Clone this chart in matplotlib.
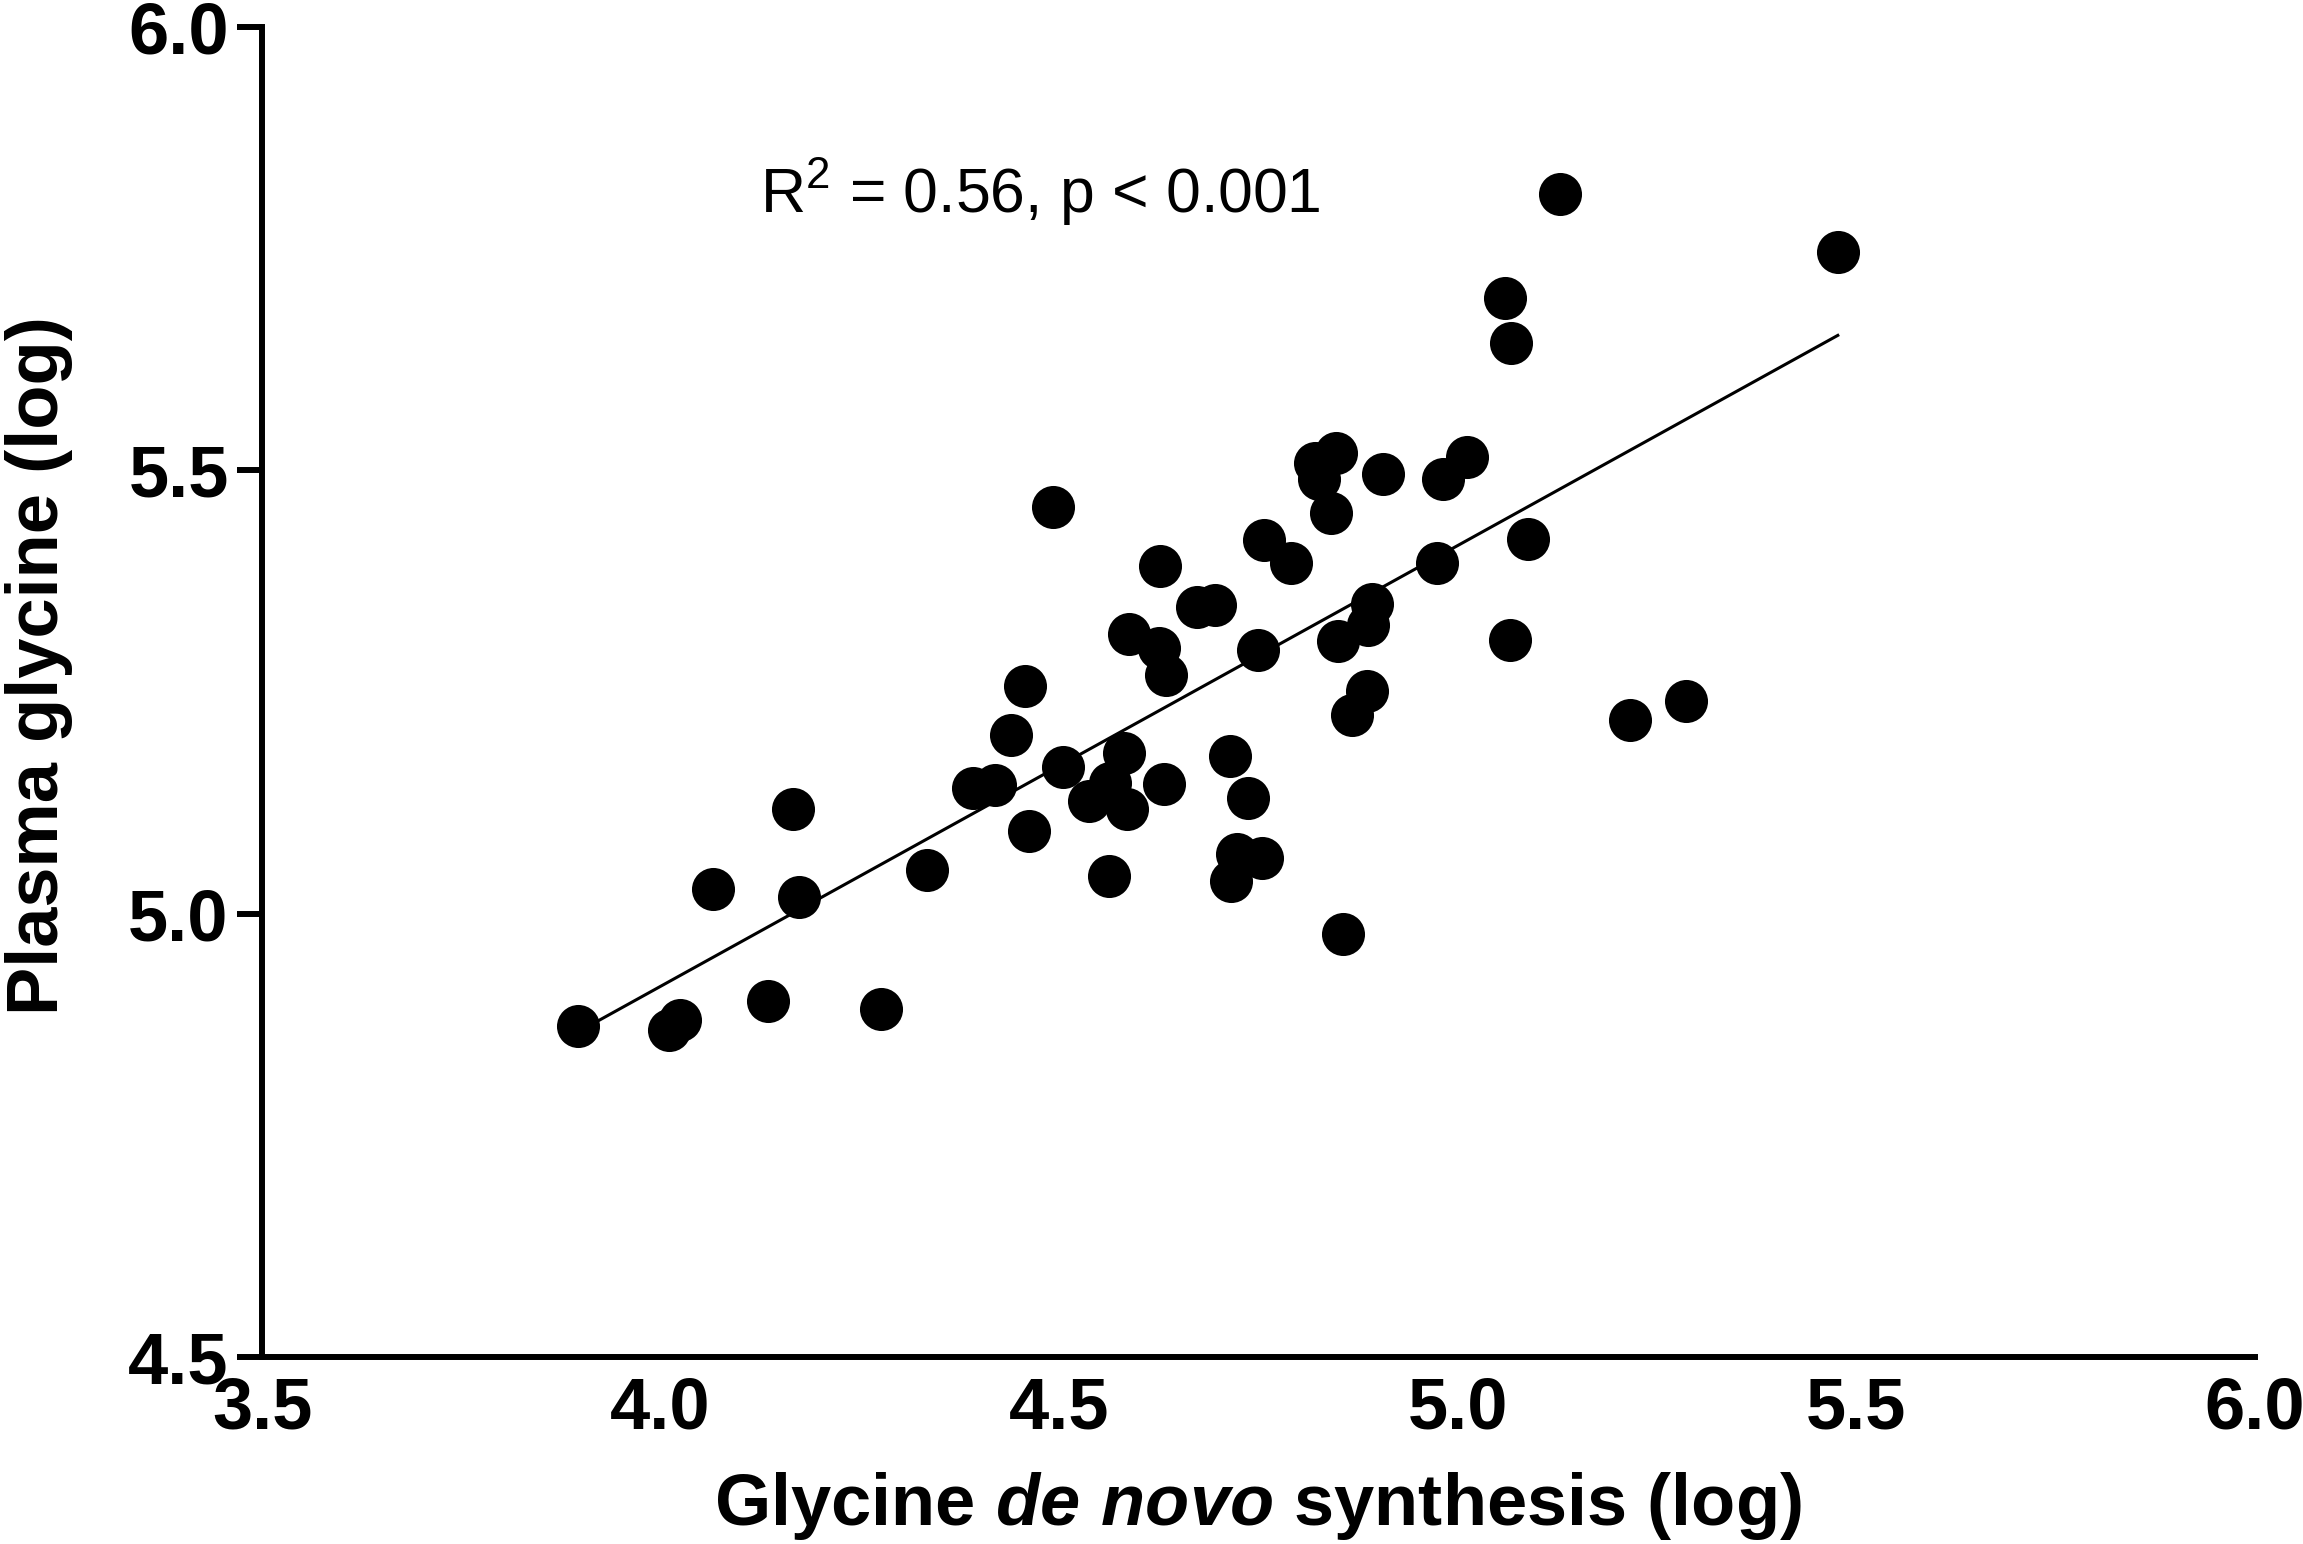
import numpy as np
import matplotlib
matplotlib.use('Agg')
import matplotlib.pyplot as plt

# valores (log)
glycine_denovo = [3.896, 4.010, 4.024, 4.066, 4.135, 4.166, 4.174, 4.277, 4.334, 4.392,
                  4.420, 4.440, 4.457, 4.462, 4.492, 4.505, 4.537, 4.564, 4.585, 4.632,
                  4.582, 4.563, 4.588, 4.625, 4.634, 4.627, 4.673, 4.695, 4.714, 4.737,
                  4.723, 4.754, 4.716, 4.749, 4.757, 4.791, 4.821, 4.826, 4.848, 4.841,
                  4.850, 4.856, 4.868, 4.886, 4.887, 4.893, 4.907, 4.974, 4.982, 5.012,
                  5.059, 5.067, 5.066, 5.088, 5.128, 5.216, 5.287, 5.477]
plasma_glycine = [4.873, 4.869, 4.880, 5.028, 4.902, 5.118, 5.019, 4.892, 5.049, 5.142,
                  5.145, 5.202, 5.257, 5.093, 5.459, 5.165, 5.127, 5.147, 5.118, 5.146,
                  5.181, 5.042, 5.315, 5.300, 5.269, 5.392, 5.346, 5.348, 5.178, 5.130,
                  5.067, 5.063, 5.037, 5.297, 5.421, 5.395, 5.508, 5.490, 5.520, 5.452,
                  5.308, 4.977, 5.224, 5.251, 5.326, 5.349, 5.496, 5.396, 5.490, 5.515,
                  5.694, 5.644, 5.309, 5.423, 5.812, 5.219, 5.240, 5.746]

x_ticks = [3.5, 4.0, 4.5, 5.0, 5.5, 6.0]
y_ticks = [4.5, 5.0, 5.5, 6.0]
stats_text = r'R$^{\mathregular{2}}$ = 0.56, p < 0.001'

x = np.array(glycine_denovo)
y = np.array(plasma_glycine)

# recta de regresion
slope, intercept = np.polyfit(x, y, 1)
x_fit = np.array([x.min(), x.max()])
y_fit = slope * x_fit + intercept

plt.rcParams['font.family'] = ['Liberation Sans', 'DejaVu Sans']
plt.rcParams['mathtext.fontset'] = 'custom'
plt.rcParams['mathtext.rm'] = 'Liberation Sans'
plt.rcParams['mathtext.it'] = 'Liberation Sans:italic:bold'
plt.rcParams['mathtext.bf'] = 'Liberation Sans:bold'

fig = plt.figure(figsize=(23.03, 15.44), dpi=100)
ax = fig.add_axes([0.1138, 0.1211, 0.9790 - 0.1138, 0.9825 - 0.1211])

ax.plot(x_fit, y_fit, color='black', linewidth=2.2, zorder=2)
ax.plot(x, y, 'o', color='black', markersize=31, markeredgewidth=0, zorder=3)

ax.set_xlim(3.5, 6.0)
ax.set_ylim(4.5, 6.0)
ax.set_xticks(x_ticks)
ax.set_yticks(y_ticks)
ax.set_xticklabels([f'{v:.1f}' for v in x_ticks], fontsize=52, fontweight='bold')
ax.set_yticklabels([f'{v:.1f}' for v in y_ticks], fontsize=52, fontweight='bold')

ax.spines['top'].set_visible(False)
ax.spines['right'].set_visible(False)
ax.spines['left'].set_linewidth(4.3)
ax.spines['bottom'].set_linewidth(4.3)
ax.tick_params(axis='x', length=0, pad=13)
ax.tick_params(axis='y', length=18, width=4.3, pad=6)

ax.set_xlabel('Glycine $\\mathit{de\\ novo}$ synthesis (log)', fontsize=52, fontweight='bold')
ax.set_ylabel('Plasma glycine (log)', fontsize=52, fontweight='bold')
ax.xaxis.set_label_coords(0.5, -0.085)
ax.yaxis.set_label_coords(-0.095, 0.52)

ax.text(4.125, 5.79, stats_text, fontsize=45)

fig.savefig('out.png', dpi=100)
